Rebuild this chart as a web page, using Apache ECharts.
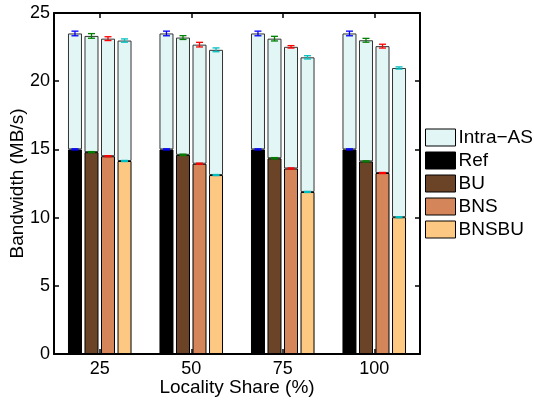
<!DOCTYPE html>
<html>
<head>
<meta charset="utf-8">
<script src="https://cdn.jsdelivr.net/npm/echarts@6/dist/echarts.min.js"></script>
<style>
  html, body { margin: 0; padding: 0; background: #fff; }
  #chart { width: 534px; height: 400px; }
</style>
</head>
<body>
<div id="chart"></div>
<script>
// Locality share categories (x axis)
const categories = ['25', '50', '75', '100'];
const schemes = ['Ref', 'BU', 'BNS', 'BNSBU'];

// Inter-AS bandwidth (lower segment of each bar), MB/s
const refInter   = [15.0, 15.0, 15.0, 15.0];
const buInter    = [14.8, 14.6, 14.35, 14.12];
const bnsInter   = [14.5, 13.95, 13.6, 13.27];
const bnsbuInter = [14.15, 13.12, 11.88, 10.03];

// Total bandwidth (top of each bar), MB/s
const refTotal   = [23.5, 23.5, 23.5, 23.5];
const buTotal    = [23.32, 23.2, 23.12, 23.0];
const bnsTotal   = [23.12, 22.68, 22.52, 22.57];
const bnsbuTotal = [22.98, 22.3, 21.75, 20.97];

// Error bar half-widths at the top and at the segment boundary
const refErrTop   = [0.17, 0.17, 0.17, 0.17];
const buErrTop    = [0.17, 0.14, 0.17, 0.14];
const bnsErrTop   = [0.14, 0.17, 0.09, 0.14];
const bnsbuErrTop = [0.12, 0.14, 0.12, 0.08];
const refErrMid   = [0.04, 0.04, 0.04, 0.04];
const buErrMid    = [0.04, 0.05, 0.05, 0.04];
const bnsErrMid   = [0.04, 0.04, 0.04, 0.04];
const bnsbuErrMid = [0.04, 0.04, 0.04, 0.04];

// Y axis ticks
const yMin = 0, yMax = 25, yStep = 5;

const interSets = [refInter, buInter, bnsInter, bnsbuInter];
const totalSets = [refTotal, buTotal, bnsTotal, bnsbuTotal];
const errTopSets = [refErrTop, buErrTop, bnsErrTop, bnsbuErrTop];
const errMidSets = [refErrMid, buErrMid, bnsErrMid, bnsbuErrMid];

const intraName = 'Intra\u2212AS';
const fillColors = ['#000000', '#6b4428', '#d4865a', '#fdc882'];
const intraColor = '#e3f6f6';
const errColors = ['#0000ff', '#008000', '#ff0000', '#00bfbf'];

const FONT = 'Liberation Sans, Arial, Helvetica, sans-serif';
const BAR_W = 14;
const BAR_GAP = 0.18;

const series = [];
schemes.forEach((s, k) => {
  series.push({
    name: s, type: 'bar', stack: s,
    data: interSets[k],
    barWidth: BAR_W, barGap: (BAR_GAP * 100) + '%',
    itemStyle: { color: fillColors[k], borderColor: '#000', borderWidth: 1 },
    emphasis: { disabled: true },
    z: 2
  });
});
schemes.forEach((s, k) => {
  series.push({
    name: intraName, type: 'bar', stack: s,
    data: totalSets[k].map((t, i) => +(t - interSets[k][i]).toFixed(3)),
    barWidth: BAR_W, barGap: (BAR_GAP * 100) + '%',
    itemStyle: { color: intraColor, borderColor: '#333', borderWidth: 1 },
    emphasis: { disabled: true },
    z: 2
  });
});

// Error bars: one custom series per scheme, drawn at the bar's offset in its group
schemes.forEach((s, k) => {
  const pts = [];
  categories.forEach((c, i) => {
    pts.push([i, totalSets[k][i], errTopSets[k][i]]);
    pts.push([i, interSets[k][i], errMidSets[k][i]]);
  });
  const pitch = BAR_W * (1 + BAR_GAP);
  const offset = (k - 1.5) * pitch;
  series.push({
    type: 'custom',
    data: pts,
    encode: { x: 0, y: 1 },
    z: 5,
    silent: true,
    renderItem: function (params, api) {
      const ci = api.value(0), v = api.value(1), e = api.value(2);
      const x = api.coord([ci, v])[0] + offset;
      const yHi = api.coord([ci, v + e])[1];
      const yLo = api.coord([ci, v - e])[1];
      const cap = 3.5;
      const style = { stroke: errColors[k], lineWidth: 1.3 };
      return {
        type: 'group',
        children: [
          { type: 'line', shape: { x1: x, y1: yHi, x2: x, y2: yLo }, style },
          { type: 'line', shape: { x1: x - cap, y1: yHi, x2: x + cap, y2: yHi }, style },
          { type: 'line', shape: { x1: x - cap, y1: yLo, x2: x + cap, y2: yLo }, style }
        ]
      };
    }
  });
});

const axisLine = { show: true, onZero: false, lineStyle: { color: '#000', width: 2 } };
const tickStyle = { show: true, inside: true, length: 5, lineStyle: { color: '#000', width: 1.5 } };

const option = {
  animation: false,
  backgroundColor: '#fff',
  textStyle: { fontFamily: FONT },
  grid: { left: 54, right: 114, top: 13, bottom: 46, containLabel: false, outerBoundsMode: 'none' },
  legend: {
    orient: 'vertical',
    left: 425, top: 128,
    padding: 0,
    itemWidth: 30, itemHeight: 17, itemGap: 4,
    icon: 'rect',
    data: [intraName].concat(schemes),
    textStyle: { fontSize: 19, color: '#000', fontFamily: FONT, padding: [0, 0, 0, -2] },
    itemStyle: { borderColor: '#000', borderWidth: 1 }
  },
  xAxis: [
    {
      type: 'category', data: categories, position: 'bottom',
      axisLine, axisTick: Object.assign({ alignWithLabel: true }, tickStyle),
      axisLabel: { fontSize: 18, color: '#000', margin: 6, fontFamily: FONT },
      name: 'Locality Share (%)', nameLocation: 'middle', nameGap: 24,
      nameMoveOverlap: false,
      nameTextStyle: { fontSize: 19, color: '#000', fontFamily: FONT },
      splitLine: { show: false }
    },
    {
      type: 'category', data: categories, position: 'top',
      axisLine, axisTick: Object.assign({ alignWithLabel: true }, tickStyle),
      axisLabel: { show: false }, splitLine: { show: false }
    }
  ],
  yAxis: [
    {
      type: 'value', min: yMin, max: yMax, interval: yStep, position: 'left',
      axisLine, axisTick: tickStyle,
      axisLabel: { fontSize: 18, color: '#000', margin: 4, fontFamily: FONT },
      name: 'Bandwidth (MB/s)', nameLocation: 'middle', nameGap: 27,
      nameMoveOverlap: false,
      nameTextStyle: { fontSize: 19, color: '#000', fontFamily: FONT },
      splitLine: { show: false }
    },
    {
      type: 'value', min: yMin, max: yMax, interval: yStep, position: 'right',
      axisLine, axisTick: tickStyle,
      axisLabel: { show: false }, splitLine: { show: false }
    }
  ],
  series
};

const chart = echarts.init(document.getElementById('chart'), null, { renderer: 'canvas' });
chart.setOption(option);
</script>
</body>
</html>
